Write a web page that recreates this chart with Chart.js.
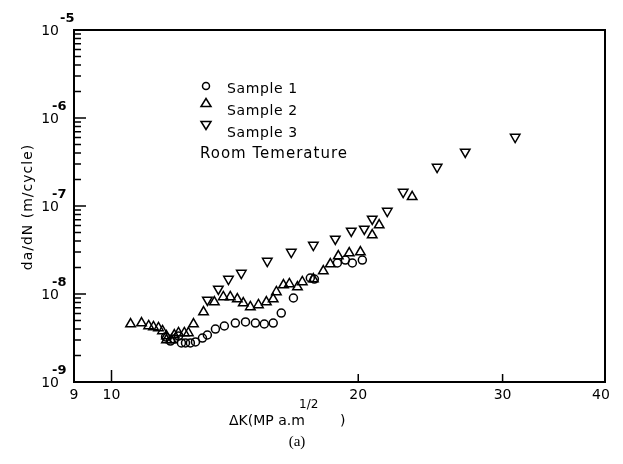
<!DOCTYPE html>
<html>
<head>
<meta charset="utf-8">
<script src="https://cdn.jsdelivr.net/npm/chart.js@4/dist/chart.umd.min.js"></script>
<style>
  html, body { margin: 0; padding: 0; background: #fff; }
  #wrap { width: 623px; height: 464px; }
</style>
</head>
<body>
<div id="wrap"><canvas id="chart" width="623" height="464"></canvas></div>
<script>
// Sample 1 (circles)
const sample1K = [11.64, 11.80, 11.93, 12.07, 12.17, 12.31, 12.48, 12.66, 12.91, 13.09, 13.39, 13.73, 14.16, 14.57, 14.98, 15.36, 15.75, 16.11, 16.67, 17.48, 17.68, 18.86, 19.29, 19.67, 20.23];
const sample1Rate = [3.25e-9, 2.92e-9, 3.08e-9, 3.33e-9, 2.78e-9, 2.78e-9, 2.78e-9, 2.85e-9, 3.16e-9, 3.42e-9, 4.00e-9, 4.33e-9, 4.68e-9, 4.81e-9, 4.68e-9, 4.56e-9, 4.68e-9, 6.08e-9, 9.01e-9, 1.52e-8, 1.48e-8, 2.25e-8, 2.43e-8, 2.25e-8, 2.43e-8];

// Sample 2 (triangles)
const sample2K = [10.55, 10.88, 11.10, 11.25, 11.41, 11.54, 11.67, 11.67, 11.83, 11.93, 12.07, 12.27, 12.41, 12.59, 12.95, 13.35, 13.69, 13.96, 14.24, 14.48, 14.77, 15.11, 15.45, 15.75, 15.89, 16.21, 16.48, 16.86, 17.09, 17.63, 18.13, 18.49, 18.91, 19.50, 20.12, 20.80, 21.21, 23.27];
const sample2Rate = [4.56e-9, 4.68e-9, 4.33e-9, 4.22e-9, 4.11e-9, 3.80e-9, 3.33e-9, 3.00e-9, 3.00e-9, 3.42e-9, 3.61e-9, 3.61e-9, 3.61e-9, 4.56e-9, 6.24e-9, 8.11e-9, 9.25e-9, 9.25e-9, 8.77e-9, 7.90e-9, 7.12e-9, 7.50e-9, 8.11e-9, 8.77e-9, 1.054e-8, 1.265e-8, 1.30e-8, 1.20e-8, 1.37e-8, 1.48e-8, 1.82e-8, 2.19e-8, 2.70e-8, 2.92e-8, 3.00e-8, 4.68e-8, 6.08e-8, 1.27e-7];

// Sample 3 (inverted triangles)
const sample3K = [13.09, 13.50, 13.89, 14.40, 15.49, 16.57, 17.63, 18.75, 19.61, 20.34, 20.80, 21.70, 22.69, 24.96, 27.01, 31.08];
const sample3Rate = [8.55e-9, 1.14e-8, 1.48e-8, 1.73e-8, 2.37e-8, 3.00e-8, 3.60e-8, 4.22e-8, 5.20e-8, 5.48e-8, 7.12e-8, 8.77e-8, 1.44e-7, 2.77e-7, 4.11e-7, 6.08e-7];

// axis ticks
const xTickValues = [9, 10, 20, 30, 40];
const yTickExponents = [-9, -8, -7, -6, -5];

const legendLabels = ['Sample 1', 'Sample 2', 'Sample 3'];
const noteText = 'Room Temerature';

function toPoints(xs, ys) {
    return xs.map((x, i) => ({ x: x, y: ys[i] }));
}

const FONT = '"DejaVu Sans", sans-serif';

// draws box, inward ticks, tick labels, titles and legend
const decorPlugin = {
    id: 'decor',
    afterDraw(chart) {
        const ctx = chart.ctx;
        const area = chart.chartArea;
        const xs = chart.scales.x;
        const ys = chart.scales.y;

        ctx.save();
        ctx.strokeStyle = '#000';
        ctx.fillStyle = '#000';
        ctx.lineWidth = 2;
        ctx.strokeRect(area.left, area.top, area.right - area.left, area.bottom - area.top);

        // y ticks (major + minor), inward from left axis
        ctx.lineWidth = 1.5;
        ctx.beginPath();
        for (let e = -9; e < -5; e++) {
            for (let m = 1; m < 10; m++) {
                const py = ys.getPixelForValue(m * Math.pow(10, e));
                const len = m === 1 ? 12 : 7;
                ctx.moveTo(area.left, py);
                ctx.lineTo(area.left + len, py);
            }
        }
        // x ticks, inward from bottom axis
        xTickValues.forEach(v => {
            if (v === 9 || v === 40) return;
            const px = xs.getPixelForValue(v);
            const len = v === 10 ? 12 : 8;
            ctx.moveTo(px, area.bottom);
            ctx.lineTo(px, area.bottom - len);
        });
        ctx.stroke();

        // x tick labels
        ctx.font = '14px ' + FONT;
        ctx.textAlign = 'center';
        ctx.textBaseline = 'middle';
        xTickValues.forEach(v => {
            let px = xs.getPixelForValue(v);
            if (v === 40) px -= 4;
            ctx.fillText(String(v), px, area.bottom + 13);
        });

        // y tick labels: 10 with superscript exponent
        yTickExponents.forEach(e => {
            const py = ys.getPixelForValue(Math.pow(10, e));
            ctx.font = '14px ' + FONT;
            ctx.textAlign = 'right';
            ctx.fillText('10', 59, py + 1);
            ctx.font = 'bold 13px ' + FONT;
            ctx.textAlign = 'left';
            ctx.fillText(String(e), e === -5 ? 60 : 52, py - 11);
        });

        // y title
        ctx.save();
        ctx.translate(28, 207);
        ctx.rotate(-Math.PI / 2);
        ctx.font = '14px ' + FONT;
        ctx.letterSpacing = '1px';
        ctx.textAlign = 'center';
        ctx.fillText('da/dN (m/cycle)', 0, 0);
        ctx.restore();

        // x title
        ctx.font = '14px ' + FONT;
        ctx.textAlign = 'left';
        ctx.fillText('\u0394K(MP a.m', 229, 421);
        ctx.fillText(')', 340, 421);
        ctx.font = '12px ' + FONT;
        ctx.fillText('1/2', 299, 405);

        // caption
        ctx.font = '15px "Liberation Serif", serif';
        ctx.textAlign = 'center';
        ctx.fillText('(a)', 297, 442);

        // legend
        const lx = 206;
        const symY = [86, 103, 125];
        const txtY = [89, 111, 133];
        ctx.lineWidth = 1.5;
        ctx.beginPath();
        ctx.arc(lx, symY[0], 3.5, 0, Math.PI * 2);
        ctx.stroke();
        ctx.beginPath();
        ctx.moveTo(lx, symY[1] - 4.5);
        ctx.lineTo(lx + 5, symY[1] + 3.5);
        ctx.lineTo(lx - 5, symY[1] + 3.5);
        ctx.closePath();
        ctx.stroke();
        ctx.beginPath();
        ctx.moveTo(lx, symY[2] + 4.5);
        ctx.lineTo(lx + 5, symY[2] - 3.5);
        ctx.lineTo(lx - 5, symY[2] - 3.5);
        ctx.closePath();
        ctx.stroke();
        ctx.font = '14px ' + FONT;
        ctx.textAlign = 'left';
        ctx.letterSpacing = '0.6px';
        legendLabels.forEach((t, i) => ctx.fillText(t, 227, txtY[i]));
        ctx.font = '15px ' + FONT;
        ctx.letterSpacing = '1px';
        ctx.fillText(noteText, 200, 154);
        ctx.restore();
    }
};

const ctx = document.getElementById('chart').getContext('2d');
new Chart(ctx, {
    type: 'scatter',
    data: {
        datasets: [
            {
                label: legendLabels[0],
                data: toPoints(sample1K, sample1Rate),
                pointStyle: 'circle',
                pointRadius: 4,
                borderColor: '#000',
                backgroundColor: 'rgba(0,0,0,0)',
                borderWidth: 1.5
            },
            {
                label: legendLabels[1],
                data: toPoints(sample2K, sample2Rate),
                pointStyle: 'triangle',
                pointRadius: 5.5,
                borderColor: '#000',
                backgroundColor: 'rgba(0,0,0,0)',
                borderWidth: 1.5
            },
            {
                label: legendLabels[2],
                data: toPoints(sample3K, sample3Rate),
                pointStyle: 'triangle',
                rotation: 180,
                pointRadius: 5.5,
                borderColor: '#000',
                backgroundColor: 'rgba(0,0,0,0)',
                borderWidth: 1.5
            }
        ]
    },
    options: {
        responsive: false,
        animation: false,
        layout: { padding: { left: 74, right: 18, top: 30, bottom: 82 } },
        plugins: {
            legend: { display: false },
            tooltip: { enabled: false }
        },
        scales: {
            x: { type: 'logarithmic', min: 9, max: 40, display: false },
            y: { type: 'logarithmic', min: 1e-9, max: 1e-5, display: false }
        }
    },
    plugins: [decorPlugin]
});
</script>
</body>
</html>
